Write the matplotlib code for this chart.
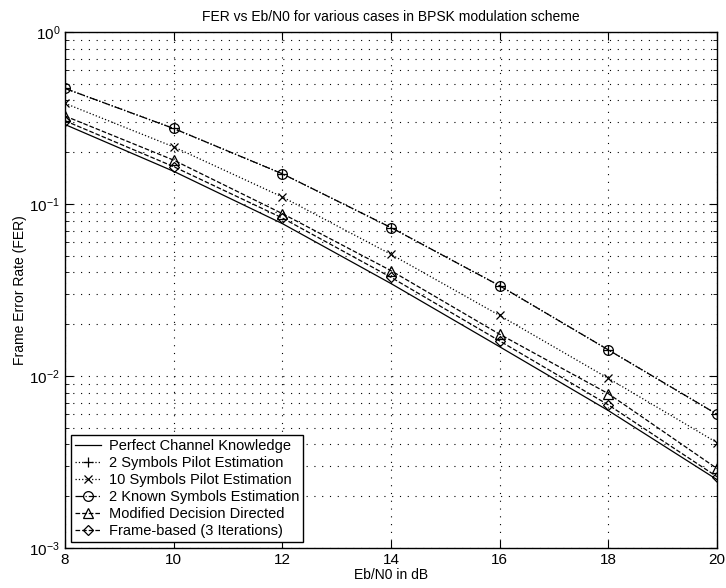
import numpy as np
import matplotlib
matplotlib.use("Agg")
import matplotlib.pyplot as plt
from matplotlib.ticker import LogLocator, NullFormatter

plt.rcParams['font.family'] = ['Liberation Sans', 'DejaVu Sans']

# ── Data ────────────────────────────────────────────────────────────────────
ebn0 = [8, 10, 12, 14, 16, 18, 20]

fer_perfect     = [0.290, 0.155, 0.077, 0.0345, 0.0148, 0.0063, 0.0025]
fer_2pilot      = [0.470, 0.275, 0.150, 0.0730, 0.0335, 0.0142, 0.0060]
fer_10pilot     = [0.385, 0.215, 0.110, 0.0510, 0.0225, 0.0097, 0.0041]
fer_2known      = [0.470, 0.275, 0.150, 0.0730, 0.0335, 0.0142, 0.0060]
fer_modified_dd = [0.325, 0.180, 0.088, 0.0410, 0.0175, 0.0079, 0.0029]
fer_frame       = [0.305, 0.165, 0.083, 0.0375, 0.0160, 0.0068, 0.0026]

labels = ['Perfect Channel Knowledge', '2 Symbols Pilot Estimation',
          '10 Symbols Pilot Estimation', '2 Known Symbols Estimation',
          'Modified Decision Directed', 'Frame-based (3 Iterations)']

series = [fer_perfect, fer_2pilot, fer_10pilot, fer_2known, fer_modified_dd, fer_frame]
styles = [('-', None, 7), (':', '+', 7), (':', 'x', 6), ('-.', 'o', 7), ('--', '^', 7), ('--', 'D', 5.5)]

fig = plt.figure(figsize=(7.26, 5.88), dpi=100)
ax = fig.add_axes([0.0895, 0.068, 0.898, 0.8775])

for vals, (ls, mk, ms), lab in zip(series, styles, labels):
    ax.plot(ebn0, vals, linestyle=ls, marker=mk, color='black', linewidth=0.9,
            markersize=ms, markerfacecolor='none', markeredgewidth=0.9, label=lab)

ax.set_yscale('log')
ax.set_xlim(8, 20)
ax.set_ylim(1e-3, 1)
ax.set_xticks(ebn0)
ax.yaxis.set_major_locator(LogLocator(base=10, numticks=10))
ax.yaxis.set_minor_locator(LogLocator(base=10, subs=np.arange(2, 10), numticks=10))
ax.yaxis.set_minor_formatter(NullFormatter())

grid_ls = (0, (1, 6))
ax.grid(True, which='major', linestyle=grid_ls, color='black', linewidth=0.8)
ax.grid(True, which='minor', axis='y', linestyle=grid_ls, color='black', linewidth=0.8)
ax.tick_params(which='both', direction='in', top=True, right=True, labelsize=11)
ax.tick_params(which='major', length=6)
ax.tick_params(which='minor', length=3)
for sp in ax.spines.values():
    sp.set_linewidth(1.0)

ax.set_title('FER vs Eb/N0 for various cases in BPSK modulation scheme', fontsize=10, pad=8)
ax.set_xlabel('Eb/N0 in dB', fontsize=10, labelpad=1)
ax.set_ylabel('Frame Error Rate (FER)', fontsize=10, labelpad=2)

leg = ax.legend(loc='lower left', fontsize=10.5, frameon=True, fancybox=False,
                edgecolor='black', framealpha=1, handlelength=1.8, handletextpad=0.5,
                borderaxespad=0.4, labelspacing=0.2, borderpad=0.3)
leg.get_frame().set_linewidth(1.0)

fig.savefig('out.png', dpi=100)
